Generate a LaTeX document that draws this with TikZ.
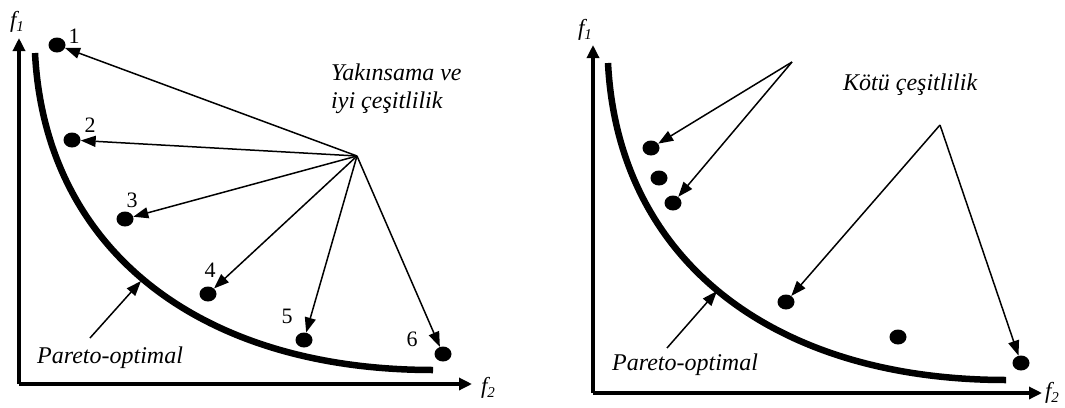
\documentclass[tikz,border=0pt]{standalone}
\usepackage{fontspec}
\setmainfont{Liberation Serif}
\usetikzlibrary{arrows.meta,shapes.geometric}
\begin{document}
\begin{tikzpicture}[x=1pt,y=-1pt,
  axis/.style={line width=3.2pt,-{Triangle[length=13pt,width=12pt]}},
  front/.style={line width=6.5pt},
  conn/.style={line width=1.5pt,-{Triangle[length=15pt,width=11pt]}},
  dot/.style={ellipse,fill=black,minimum width=17pt,minimum height=15pt,inner sep=0pt},
  lbl/.style={font=\fontsize{24}{28}\selectfont\itshape,inner sep=0pt},
  num/.style={font=\fontsize{22}{24}\selectfont,inner sep=0pt},
  axlbl/.style={font=\fontsize{23}{24}\selectfont\itshape,inner sep=0pt}]
\useasboundingbox (0,0) rectangle (1065,407);
% ---------- left panel ----------
\coordinate (Lo) at (19,384);
\coordinate (Ly) at (19,38);
\coordinate (Lx) at (472,384);
\draw[axis] (Lo) -- (Ly);
\draw[axis] (Lo) -- (Lx);
\node[axlbl] (Lf1) at (17,22) {f\raisebox{-0.35ex}{\fontsize{15}{15}\selectfont 1}};
\node[axlbl] (Lf2) at (488,388) {f\raisebox{-0.35ex}{\fontsize{15}{15}\selectfont 2}};
\draw[front] (35,53) .. controls (45,250) and (200,370) .. (433,370);
\node[dot] (d1) at (57,45) {};
\node[dot] (d2) at (72,140) {};
\node[dot] (d3) at (125,219) {};
\node[dot] (d4) at (208,294) {};
\node[dot] (d5) at (304,340) {};
\node[dot] (d6) at (443,354) {};
\node[num] (n1) at (74,36) {1};
\node[num] (n2) at (90,125) {2};
\node[num] (n3) at (132,200) {3};
\node[num] (n4) at (210,270) {4};
\node[num] (n5) at (287,316) {5};
\node[num] (n6) at (412,339) {6};
\coordinate (hub) at (357,156);
\foreach \d in {d1,d2,d3,d4,d5,d6}{\draw[conn] (hub) -- (\d);}
\node[lbl,anchor=west] (t1) at (331,72) {Yakınsama ve};
\node[lbl,anchor=west] (t2) at (331,103) {iyi çeşitlilik};
\node[lbl,anchor=west] (pL) at (37,358) {Pareto-optimal};
\coordinate (pLs) at (90,338);
\coordinate (pLe) at (141,281);
\draw[conn] (pLs) -- (pLe);
% ---------- right panel ----------
\coordinate (Ro) at (593,393);
\coordinate (Ry) at (593,45);
\coordinate (Rx) at (1042,393);
\draw[axis] (Ro) -- (Ry);
\draw[axis] (Ro) -- (Rx);
\node[axlbl] (Rf1) at (585,30) {f\raisebox{-0.35ex}{\fontsize{15}{15}\selectfont 1}};
\node[axlbl] (Rf2) at (1052,393) {f\raisebox{-0.35ex}{\fontsize{15}{15}\selectfont 2}};
\draw[front] (608,63) .. controls (618,260) and (773,380) .. (1006,380);
\node[dot] (e1) at (651,148) {};
\node[dot] (e2) at (659,178) {};
\node[dot] (e3) at (673,203) {};
\node[dot] (e4) at (786,302) {};
\node[dot] (e5) at (898,337) {};
\node[dot] (e6) at (1021,363) {};
\coordinate (hubA) at (792,62);
\coordinate (hubB) at (940,125);
\draw[conn] (hubA) -- (e1);
\draw[conn] (hubA) -- (e3);
\draw[conn] (hubB) -- (e4);
\draw[conn] (hubB) -- (e6);
\node[lbl,anchor=west] (kc) at (843,85) {Kötü çeşitlilik};
\node[lbl,anchor=west] (pR) at (612,365) {Pareto-optimal};
\coordinate (pRs) at (667,348);
\coordinate (pRe) at (717,291);
\draw[conn] (pRs) -- (pRe);
\end{tikzpicture}
\end{document}
